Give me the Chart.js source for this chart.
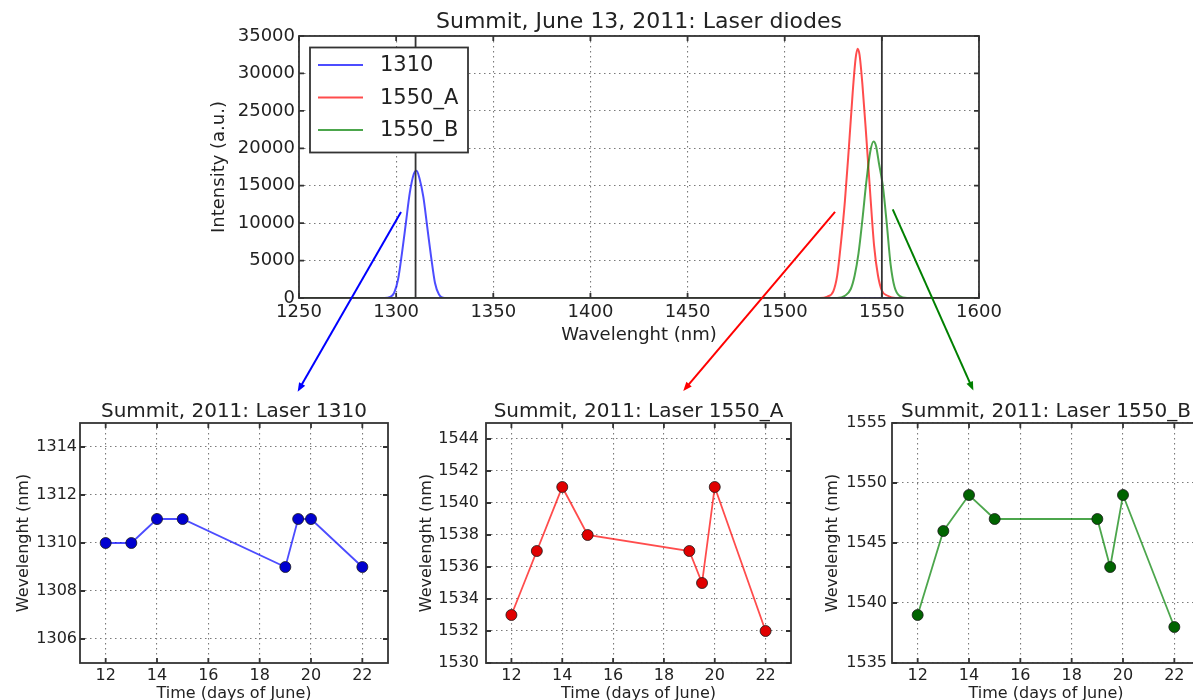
<!DOCTYPE html>
<html>
<head>
<meta charset="utf-8">
<script src="https://cdn.jsdelivr.net/npm/chart.js@4.4.1/dist/chart.umd.min.js"></script>
<style>
  html, body { margin: 0; padding: 0; background: #fff; overflow: hidden; }
  body { width: 1193px; height: 700px; position: relative; }
  canvas { position: absolute; }
</style>
</head>
<body>
<canvas id="spectra" width="880" height="360" style="left:160px;top:0"></canvas>
<canvas id="laser1310" width="400" height="330" style="left:0;top:390px"></canvas>
<canvas id="laser1550a" width="400" height="330" style="left:400px;top:390px"></canvas>
<canvas id="laser1550b" width="420" height="330" style="left:800px;top:390px"></canvas>
<canvas id="arrows" width="1193" height="700" style="left:0;top:0;pointer-events:none"></canvas>
<script>
const FONT = '"DejaVu Sans", sans-serif';
const INK = '#222';
const FRAME = '#333';

// top panel: spectra of the three diodes
const wl1310 = [1250, 1294, 1297, 1299, 1301, 1303, 1305, 1307, 1309, 1310.5, 1312, 1314, 1316, 1318, 1320, 1322, 1325, 1600];
const int1310 = [0, 0, 150, 700, 2500, 6000, 10000, 14000, 16500, 17000, 16000, 13500, 9500, 5500, 2000, 500, 0, 0];
const wl1550A = [1250, 1518, 1522, 1525, 1527, 1529, 1531, 1533, 1535, 1536.5, 1537.5, 1538.5, 1540, 1542, 1544, 1546, 1548, 1550, 1553, 1557, 1600];
const int1550A = [0, 0, 200, 900, 3000, 7500, 13000, 20000, 27500, 32000, 33300, 32500, 28500, 21500, 14000, 7000, 3000, 1000, 300, 0, 0];
const wl1550B = [1250, 1527, 1531, 1534, 1536, 1538, 1540, 1542, 1544, 1545.7, 1547, 1548.5, 1550.5, 1552.5, 1554.5, 1556.5, 1559, 1563, 1600];
const int1550B = [0, 0, 300, 1200, 3000, 6000, 10500, 15500, 19500, 20900, 20300, 18000, 15000, 10000, 4500, 1500, 300, 0, 0];
const markerWl = [1310, 1550];
const wlTicks = [1250, 1300, 1350, 1400, 1450, 1500, 1550, 1600];
const intTicks = [0, 5000, 10000, 15000, 20000, 25000, 30000, 35000];

// bottom panels: peak wavelength per day
const days = [12, 13, 14, 15, 19, 19.5, 20, 22];
const peak1310 = [1310, 1310, 1311, 1311, 1309, 1311, 1311, 1309];
const peak1550A = [1533, 1537, 1541, 1538, 1537, 1535, 1541, 1532];
const peak1550B = [1539, 1546, 1549, 1547, 1547, 1543, 1549, 1538];
const dayTicks = [12, 14, 16, 18, 20, 22];
const ticks1310 = [1306, 1308, 1310, 1312, 1314];
const ticks1550A = [1530, 1532, 1534, 1536, 1538, 1540, 1542, 1544];
const ticks1550B = [1535, 1540, 1545, 1550, 1555];

// arrows: from the spectrum (nm, a.u.) to a panel (day, nm)
const arrowLinks = [
  { color: '#0000ff', from: [1302.5, 11500], to: [19.48, 1316.3], panel: 1 },
  { color: '#ff0000', from: [1525.9, 11500], to: [18.76, 1547.0], panel: 2 },
  { color: '#008000', from: [1555.6, 11850], to: [14.17, 1557.7], panel: 3 },
];

const xy = (xs, ys) => xs.map((x, i) => ({ x: x, y: ys[i] }));

// box, inward ticks and the panel title
const framePlugin = {
  id: 'frame',
  afterDraw(chart, args, opts) {
    const { ctx, chartArea: a, scales } = chart;
    ctx.save();
    ctx.strokeStyle = FRAME;
    ctx.lineWidth = 1.8;
    ctx.beginPath();
    scales.x.ticks.forEach(t => {
      const px = scales.x.getPixelForValue(t.value);
      ctx.moveTo(px, a.bottom); ctx.lineTo(px, a.bottom - 5);
      ctx.moveTo(px, a.top); ctx.lineTo(px, a.top + 5);
    });
    scales.y.ticks.forEach(t => {
      const py = scales.y.getPixelForValue(t.value);
      ctx.moveTo(a.left, py); ctx.lineTo(a.left + 5, py);
      ctx.moveTo(a.right, py); ctx.lineTo(a.right - 5, py);
    });
    ctx.stroke();
    ctx.strokeRect(a.left, a.top, a.right - a.left, a.bottom - a.top);
    ctx.fillStyle = INK;
    ctx.font = opts.size + 'px ' + FONT;
    ctx.textAlign = 'center';
    ctx.textBaseline = 'middle';
    ctx.fillText(opts.text, (a.left + a.right) / 2, a.top - opts.gap);
    ctx.restore();
  }
};

// boxed legend inside the plot, like the original
const boxLegendPlugin = {
  id: 'boxLegend',
  afterDraw(chart, args, opts) {
    if (!opts.show) return;
    const { ctx, chartArea: a } = chart;
    const x0 = a.left + 11, y0 = a.top + 11.5;
    ctx.save();
    ctx.fillStyle = '#fff';
    ctx.fillRect(x0, y0, 158, 105);
    ctx.strokeStyle = FRAME;
    ctx.lineWidth = 1.8;
    ctx.strokeRect(x0, y0, 158, 105);
    ctx.font = '21px ' + FONT;
    ctx.textBaseline = 'middle';
    ctx.textAlign = 'left';
    chart.data.datasets.filter(d => d.label).forEach((d, i) => {
      const cy = y0 + 17.5 + i * 32.5;
      ctx.strokeStyle = d.borderColor;
      ctx.lineWidth = 2;
      ctx.beginPath();
      ctx.moveTo(x0 + 8, cy); ctx.lineTo(x0 + 53, cy);
      ctx.stroke();
      ctx.fillStyle = INK;
      ctx.fillText(d.label, x0 + 70, cy + 1);
    });
    ctx.restore();
  }
};

function axis(o) {
  return {
    type: 'linear',
    min: o.min,
    max: o.max,
    afterBuildTicks: s => { s.ticks = o.ticks.map(v => ({ value: v })); },
    afterFit: s => { if (s.isHorizontal()) s.height = o.size; else s.width = o.size; },
    grid: { color: '#7a7a7a', lineWidth: 1.1, drawTicks: false },
    border: { display: false, dash: [1.5, 3.5] },
    ticks: {
      color: INK, padding: o.tickPad, autoSkip: false, maxRotation: 0,
      font: { family: FONT, size: o.tickSize },
      callback: v => String(v)
    },
    title: {
      display: true, text: o.title, color: INK,
      font: { family: FONT, size: o.titleSize },
      padding: { top: o.titlePad, bottom: o.titlePad }
    }
  };
}

const charts = {};

charts[0] = new Chart(document.getElementById('spectra'), {
  type: 'line',
  data: {
    datasets: [
      { data: [{ x: markerWl[0], y: 0 }, { x: markerWl[0], y: 35000 }], borderColor: FRAME, borderWidth: 1.8, pointRadius: 0, order: 0 },
      { data: [{ x: markerWl[1], y: 0 }, { x: markerWl[1], y: 35000 }], borderColor: FRAME, borderWidth: 1.8, pointRadius: 0, order: 0 },
      { label: '1310', data: xy(wl1310, int1310), borderColor: 'rgba(0,0,255,0.7)', borderWidth: 2, pointRadius: 0, cubicInterpolationMode: 'monotone', order: 3 },
      { label: '1550_A', data: xy(wl1550A, int1550A), borderColor: 'rgba(255,0,0,0.7)', borderWidth: 2, pointRadius: 0, cubicInterpolationMode: 'monotone', order: 2 },
      { label: '1550_B', data: xy(wl1550B, int1550B), borderColor: 'rgba(0,128,0,0.7)', borderWidth: 2, pointRadius: 0, cubicInterpolationMode: 'monotone', order: 1 }
    ]
  },
  options: {
    responsive: false,
    animation: false,
    layout: { padding: { left: 40, top: 36, right: 61, bottom: 0 } },
    scales: {
      x: axis({ min: 1250, max: 1600, ticks: wlTicks, size: 62, tickPad: 4, tickSize: 18, title: 'Wavelenght (nm)', titleSize: 18, titlePad: 14 }),
      y: axis({ min: 0, max: 35000, ticks: intTicks, size: 99, tickPad: 4, tickSize: 18, title: 'Intensity (a.u.)', titleSize: 18, titlePad: 9 })
    },
    plugins: {
      legend: { display: false },
      tooltip: { enabled: false },
      frame: { text: 'Summit, June 13, 2011: Laser diodes', size: 22, gap: 13.5 },
      boxLegend: { show: true }
    }
  },
  plugins: [framePlugin, boxLegendPlugin]
});

function panel(idx, canvasId, title, values, yMin, yMax, yTicks, lineColor, dotColor, lay) {
  charts[idx] = new Chart(document.getElementById(canvasId), {
    type: 'line',
    data: {
      datasets: [{
        data: xy(days, values),
        borderColor: lineColor,
        borderWidth: 1.8,
        pointRadius: 5.5,
        pointBackgroundColor: dotColor,
        pointBorderColor: '#1a1a1a',
        pointBorderWidth: 0.8,
        tension: 0
      }]
    },
    options: {
      responsive: false,
      animation: false,
      layout: { padding: { left: 4, top: 33, right: lay.right, bottom: 0 } },
      scales: {
        x: axis({ min: 11, max: 23, ticks: dayTicks, size: 57, tickPad: 3, tickSize: 16, title: 'Time (days of June)', titleSize: 16, titlePad: 17 }),
        y: axis({ min: yMin, max: yMax, ticks: yTicks, size: lay.yWidth, tickPad: lay.tickPad, tickSize: 16, title: 'Wevelenght (nm)', titleSize: 16, titlePad: lay.titlePad })
      },
      plugins: {
        legend: { display: false },
        tooltip: { enabled: false },
        frame: { text: title, size: 20, gap: 11.5 }
      }
    },
    plugins: [framePlugin]
  });
}

panel(1, 'laser1310', 'Summit, 2011: Laser 1310', peak1310, 1305, 1315, ticks1310,
  'rgba(0,0,255,0.7)', '#0000d0', { right: 12, yWidth: 76, tickPad: 3, titlePad: 10.4 });
panel(2, 'laser1550a', 'Summit, 2011: Laser 1550_A', peak1550A, 1530, 1545, ticks1550A,
  'rgba(255,0,0,0.7)', '#e00000', { right: 9, yWidth: 82, tickPad: 7, titlePad: 12.9 });
panel(3, 'laser1550b', 'Summit, 2011: Laser 1550_B', peak1550B, 1535, 1555, ticks1550B,
  'rgba(0,128,0,0.7)', '#006400', { right: 20, yWidth: 88, tickPad: 5, titlePad: 19.4 });

// connecting arrows, drawn over all panels
function toPage(chart, vx, vy) {
  const c = chart.canvas;
  return [c.offsetLeft + chart.scales.x.getPixelForValue(vx), c.offsetTop + chart.scales.y.getPixelForValue(vy)];
}
const actx = document.getElementById('arrows').getContext('2d');
arrowLinks.forEach(l => {
  const [x1, y1] = toPage(charts[0], l.from[0], l.from[1]);
  const [x2, y2] = toPage(charts[l.panel], l.to[0], l.to[1]);
  const ang = Math.atan2(y2 - y1, x2 - x1);
  actx.strokeStyle = l.color;
  actx.fillStyle = l.color;
  actx.lineWidth = 2;
  actx.beginPath();
  actx.moveTo(x1, y1);
  actx.lineTo(x2 - 6 * Math.cos(ang), y2 - 6 * Math.sin(ang));
  actx.stroke();
  actx.beginPath();
  actx.moveTo(x2, y2);
  actx.lineTo(x2 - 9 * Math.cos(ang) + 3.5 * Math.sin(ang), y2 - 9 * Math.sin(ang) - 3.5 * Math.cos(ang));
  actx.lineTo(x2 - 9 * Math.cos(ang) - 3.5 * Math.sin(ang), y2 - 9 * Math.sin(ang) + 3.5 * Math.cos(ang));
  actx.closePath();
  actx.fill();
});
</script>
</body>
</html>
